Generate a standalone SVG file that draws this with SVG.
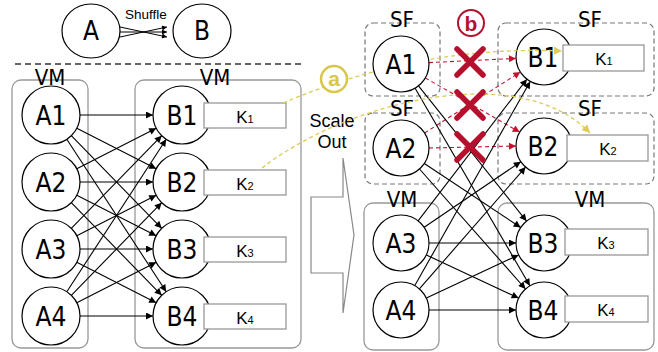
<svg xmlns="http://www.w3.org/2000/svg" width="658" height="352" viewBox="0 0 658 352">
<style>
.nd{fill:#fff;stroke:#000;stroke-width:1.2}
.nt{font-family:"DejaVu Sans Condensed","DejaVu Sans",sans-serif;font-size:26px;text-anchor:middle;fill:#000}
.lb{font-family:"DejaVu Sans Condensed","DejaVu Sans",sans-serif;font-size:22px;text-anchor:middle;fill:#000}
.kb{fill:#fff;stroke:#999;stroke-width:1.3}
.kt{font-family:"Liberation Sans",Arial,sans-serif;font-size:17px;text-anchor:middle;fill:#000}
.ks{font-size:11px}
.vm{fill:none;stroke:#999;stroke-width:1.3}
.sf{fill:none;stroke:#777;stroke-width:1.2;stroke-dasharray:5 3}
.e{stroke:#000;stroke-width:1.1;fill:none;marker-end:url(#ah)}
.r{stroke:#c8102e;stroke-width:1.1;fill:none;stroke-dasharray:4 3;marker-end:url(#ahr)}
.y{stroke:#dccb55;stroke-width:1.3;fill:none;stroke-dasharray:4 3;marker-end:url(#ahy)}
.x{stroke:#b5112e;stroke-width:5.5;stroke-linecap:round}
.tx{font-family:"Liberation Sans",Arial,sans-serif;text-anchor:middle;fill:#000}
</style>
<defs>
<marker id="ah" viewBox="0 0 10 10" refX="10" refY="5" markerWidth="9" markerHeight="7" markerUnits="userSpaceOnUse" orient="auto"><path d="M0,0 L10,5 L0,10 z" fill="#000"/></marker>
<marker id="ahs" viewBox="0 0 10 10" refX="10" refY="5" markerWidth="6" markerHeight="5" markerUnits="userSpaceOnUse" orient="auto"><path d="M0,0 L10,5 L0,10 z" fill="#000"/></marker>
<marker id="ahr" viewBox="0 0 10 10" refX="10" refY="5" markerWidth="9" markerHeight="7" markerUnits="userSpaceOnUse" orient="auto"><path d="M0,0 L10,5 L0,10 z" fill="#c8102e"/></marker>
<marker id="ahy" viewBox="0 0 10 10" refX="10" refY="5" markerWidth="10" markerHeight="8" markerUnits="userSpaceOnUse" orient="auto"><path d="M0,0 L10,5 L0,10 z" fill="#dccb55"/></marker>
</defs>

<!-- top shuffle illustration -->
<g id="topA"><ellipse class="nd" cx="91" cy="31" rx="29" ry="27"/><text class="nt" x="91" y="40">A</text></g>
<g id="topB"><ellipse class="nd" cx="202" cy="31" rx="29" ry="27"/><text class="nt" x="202" y="40">B</text></g>
<g id="shuffle">
<text class="tx" x="146" y="19" font-size="13.5">Shuffle</text>
<path d="M120,27 L167,37" stroke="#000" stroke-width="1" marker-end="url(#ahs)"/>
<path d="M120,32 L167,32" stroke="#000" stroke-width="1" marker-end="url(#ahs)"/>
<path d="M120,37 L167,27" stroke="#000" stroke-width="1" marker-end="url(#ahs)"/>
</g>
<path d="M15,64 H302" stroke="#333" stroke-width="1.3" stroke-dasharray="6 4"/>

<!-- left containers -->
<g id="vmL1"><rect class="vm" x="12" y="80" width="76" height="268" rx="9"/><text class="lb" x="50" y="85">VM</text></g>
<g id="vmL2"><rect class="vm" x="135" y="80" width="166" height="268" rx="9"/><text class="lb" x="215" y="85">VM</text></g>

<!-- right containers -->
<g id="sf1"><rect class="sf" x="365" y="23" width="75" height="73" rx="8"/><text class="lb" x="402" y="27">SF</text></g>
<g id="sf2"><rect class="sf" x="498" y="23" width="156" height="73" rx="8"/><text class="lb" x="590" y="27">SF</text></g>
<g id="sf3"><rect class="sf" x="365" y="113" width="75" height="71" rx="8"/><text class="lb" x="402" y="116">SF</text></g>
<g id="sf4"><rect class="sf" x="498" y="113" width="156" height="71" rx="8"/><text class="lb" x="590" y="116">SF</text></g>
<g id="vmR1"><rect class="vm" x="364" y="203" width="75" height="147" rx="9"/><text class="lb" x="402" y="207">VM</text></g>
<g id="vmR2"><rect class="vm" x="498" y="203" width="156" height="147" rx="9"/><text class="lb" x="590" y="207">VM</text></g>

<!-- scale out arrow -->
<g id="scaleout">
<polygon points="311,197 343,197 343,158 354,235 343,313 343,273 311,273" fill="none" stroke="#888" stroke-width="1.2"/>
<text class="tx" x="332" y="127" font-size="18">Scale</text>
<text class="tx" x="332" y="148" font-size="18">Out</text>
</g>

<!-- left nodes -->
<g id="LA1"><circle class="nd" cx="51" cy="115" r="29"/><text class="nt" x="51" y="124.5">A1</text></g>
<g id="LA2"><circle class="nd" cx="51" cy="182" r="29"/><text class="nt" x="51" y="191.5">A2</text></g>
<g id="LA3"><circle class="nd" cx="51" cy="249" r="29"/><text class="nt" x="51" y="258.5">A3</text></g>
<g id="LA4"><circle class="nd" cx="51" cy="316" r="29"/><text class="nt" x="51" y="325.5">A4</text></g>
<g id="LB1"><circle class="nd" cx="182" cy="115" r="29"/><text class="nt" x="182" y="124.5">B1</text><rect class="kb" x="204" y="103" width="82" height="25"/><text class="kt" x="245" y="123">K<tspan class="ks">1</tspan></text></g>
<g id="LB2"><circle class="nd" cx="182" cy="182" r="29"/><text class="nt" x="182" y="191.5">B2</text><rect class="kb" x="204" y="170" width="82" height="25"/><text class="kt" x="245" y="190">K<tspan class="ks">2</tspan></text></g>
<g id="LB3"><circle class="nd" cx="182" cy="249" r="29"/><text class="nt" x="182" y="258.5">B3</text><rect class="kb" x="204" y="237" width="82" height="25"/><text class="kt" x="245" y="257">K<tspan class="ks">3</tspan></text></g>
<g id="LB4"><circle class="nd" cx="182" cy="316" r="29"/><text class="nt" x="182" y="325.5">B4</text><rect class="kb" x="204" y="304" width="82" height="25"/><text class="kt" x="245" y="324">K<tspan class="ks">4</tspan></text></g>

<!-- right B nodes -->
<g id="RB1"><circle class="nd" cx="544" cy="57" r="28"/><text class="nt" x="543" y="66.5">B1</text><rect class="kb" x="563" y="45" width="81" height="26"/><text class="kt" x="604" y="65">K<tspan class="ks">1</tspan></text></g>
<g id="RB2"><circle class="nd" cx="544" cy="146" r="28"/><text class="nt" x="543" y="155.5">B2</text><rect class="kb" x="567" y="135" width="81" height="26"/><text class="kt" x="608" y="155">K<tspan class="ks">2</tspan></text></g>
<g id="RB3"><circle class="nd" cx="544" cy="243" r="28"/><text class="nt" x="543" y="252.5">B3</text><rect class="kb" x="565" y="229" width="83" height="26"/><text class="kt" x="606" y="249">K<tspan class="ks">3</tspan></text></g>
<g id="RB4"><circle class="nd" cx="544" cy="310" r="28"/><text class="nt" x="543" y="319.5">B4</text><rect class="kb" x="565" y="296" width="83" height="26"/><text class="kt" x="606" y="316">K<tspan class="ks">4</tspan></text></g>

<!-- connectors -->
<g id="connectors">
<path class="e" d="M80,115 L153,115"/>
<path class="e" d="M76.8,128.2 L156.2,168.8"/>
<path class="e" d="M71.3,135.7 L161.7,228.3"/>
<path class="e" d="M66.8,139.3 L166.2,291.7"/>
<path class="e" d="M76.8,168.8 L156.2,128.2"/>
<path class="e" d="M80,182 L153,182"/>
<path class="e" d="M76.8,195.2 L156.2,235.8"/>
<path class="e" d="M71.3,202.7 L161.7,295.3"/>
<path class="e" d="M71.3,228.3 L161.7,135.7"/>
<path class="e" d="M76.8,235.8 L156.2,195.2"/>
<path class="e" d="M80,249 L153,249"/>
<path class="e" d="M76.8,262.2 L156.2,302.8"/>
<path class="e" d="M66.8,291.7 L166.2,139.3"/>
<path class="e" d="M71.3,295.3 L161.7,202.7"/>
<path class="e" d="M76.8,302.8 L156.2,262.2"/>
<path class="e" d="M80,316 L153,316"/>

<path class="r" d="M429,62.6 L516,58.4"/>
<path class="r" d="M425.3,77.9 L519.7,132.1"/>
<path class="r" d="M424.6,133 L520.4,72"/>
<path class="r" d="M429,148 L516,146"/>
<path class="e" d="M418.5,85.9 L526.5,221.1"/>
<path class="e" d="M415.1,88.2 L529.9,285.8"/>
<path class="e" d="M424.3,163.5 L520.7,227.5"/>
<path class="e" d="M419.5,169 L525.5,289"/>
<path class="e" d="M418.1,220.8 L526.9,79.2"/>
<path class="e" d="M424.2,227.3 L520.8,161.7"/>
<path class="e" d="M429,243 L516,243"/>
<path class="e" d="M426.4,254.9 L518.6,298.1"/>
<path class="e" d="M414.8,285.6 L530.2,81.4"/>
<path class="e" d="M419.4,288.9 L525.6,167.1"/>
<path class="e" d="M426.4,298.1 L518.6,254.9"/>
<path class="e" d="M429,310 L516,310"/>

<path class="y" d="M283,103 Q420,45 562,51"/>
<path class="y" d="M262,168 C350,100 520,60 590,133"/>
</g>

<!-- right A nodes -->
<g id="RA1"><circle class="nd" cx="401" cy="64" r="28"/><text class="nt" x="401" y="73.5">A1</text></g>
<g id="RA2"><circle class="nd" cx="401" cy="148" r="28"/><text class="nt" x="401" y="157.5">A2</text></g>
<g id="RA3"><circle class="nd" cx="401" cy="243" r="28"/><text class="nt" x="401" y="252.5">A3</text></g>
<g id="RA4"><circle class="nd" cx="401" cy="310" r="28"/><text class="nt" x="401" y="319.5">A4</text></g>

<!-- crosses -->
<g id="crosses">
<path class="x" d="M457,49 L483,75 M483,49 L457,75"/>
<path class="x" d="M457,92 L483,118 M483,92 L457,118"/>
<path class="x" d="M457,134 L483,160 M483,134 L457,160"/>
</g>

<!-- callouts -->
<g id="calloutA"><circle cx="334" cy="79" r="13" fill="#fff" stroke="#d8c74a" stroke-width="2.5"/><text x="334" y="86" font-family="'Liberation Sans',Arial,sans-serif" font-size="21" font-weight="bold" text-anchor="middle" fill="#d8c74a">a</text></g>
<g id="calloutB"><circle cx="471" cy="23" r="13" fill="#fff" stroke="#b5112e" stroke-width="2"/><text x="471" y="30.5" font-family="'Liberation Sans',Arial,sans-serif" font-size="21" font-weight="bold" text-anchor="middle" fill="#b5112e">b</text></g>
</svg>
